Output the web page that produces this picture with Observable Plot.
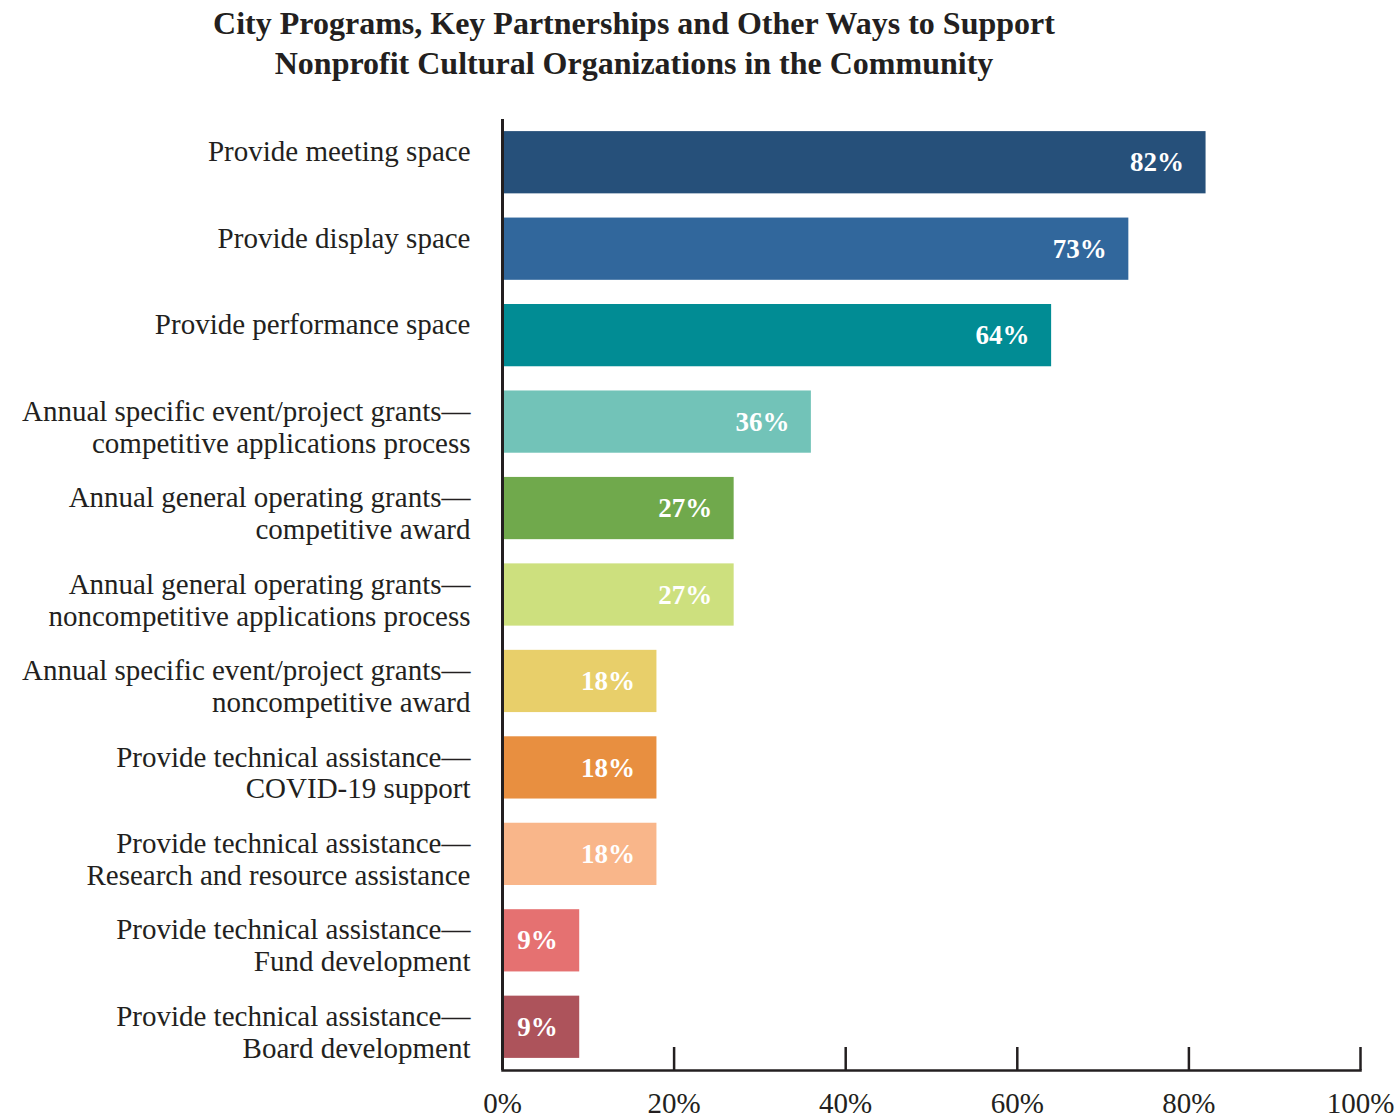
<!DOCTYPE html>
<html>
<head>
<meta charset="utf-8">
<script src="https://cdn.jsdelivr.net/npm/d3@7"></script>
<script src="https://cdn.jsdelivr.net/npm/@observablehq/plot@0.6"></script>
<style>
  html, body { margin: 0; padding: 0; background: #fff; }
  #title {
    width: 1268px; height: 95px; box-sizing: border-box; padding-top: 3px;
    text-align: center; font-family: "Liberation Serif", serif; font-weight: bold;
    font-size: 32px; line-height: 40px; color: #231f20;
  }
  #chart svg { display: block; }
</style>
</head>
<body>
<div id="title">City Programs, Key Partnerships and Other Ways to Support<br>Nonprofit Cultural Organizations in the Community</div>
<div id="chart"></div>
<script>
const categories = [
  "Provide meeting space",
  "Provide display space",
  "Provide performance space",
  "Annual specific event/project grants—\ncompetitive applications process",
  "Annual general operating grants—\ncompetitive award",
  "Annual general operating grants—\nnoncompetitive applications process",
  "Annual specific event/project grants—\nnoncompetitive award",
  "Provide technical assistance—\nCOVID-19 support",
  "Provide technical assistance—\nResearch and resource assistance",
  "Provide technical assistance—\nFund development",
  "Provide technical assistance—\nBoard development"
];
const values = [82, 73, 64, 36, 27, 27, 18, 18, 18, 9, 9];
const colors = ["#26507a", "#31679c", "#018c94", "#72c3b8", "#70a94c", "#cde07e",
                "#e8cf6a", "#e88f40", "#f9b68a", "#e57171", "#ad535b"];
const xTicks = [0, 20, 40, 60, 80, 100];

const data = categories.map((c, i) => ({label: c, value: values[i], color: colors[i]}));
const ink = "#231f20";

const chart = Plot.plot({
  width: 1397,
  height: 1023,
  marginTop: 24,
  marginBottom: 48,
  marginLeft: 502,
  marginRight: 37,
  style: {fontFamily: "Liberation Serif, serif", color: ink, background: "#fff", overflow: "visible"},
  x: {domain: [0, 100], axis: null},
  y: {domain: categories, paddingInner: 0.28, paddingOuter: 0.14, round: false, axis: null},
  marks: [
    Plot.barX(data, {x: "value", y: "label", fill: "color", insetLeft: 1}),
    Plot.text(data, {x: "value", y: "label", text: d => d.value + "%", textAnchor: "end",
      dx: -22, fill: "white", fontSize: 27, fontWeight: "bold"}),
    Plot.text(data, {x: 0, y: "label", text: "label", textAnchor: "end", dx: -32,
      lineAnchor: "top", dy: -24, lineHeight: 1.1, fontSize: 29, fill: ink}),
    Plot.axisX(xTicks, {anchor: "bottom", tickSize: -23, text: null, label: null, stroke: ink, strokeWidth: 2.5}),
    Plot.axisX(xTicks, {anchor: "bottom", tickSize: 0, tickPadding: 22, fontSize: 29, label: null,
      tickFormat: d => d + "%", fill: ink}),
    Plot.ruleX([0], {stroke: ink, strokeWidth: 3}),
    Plot.frame({anchor: "bottom", stroke: ink, strokeWidth: 2.5})
  ]
});
document.getElementById("chart").appendChild(chart);
</script>
</body>
</html>
